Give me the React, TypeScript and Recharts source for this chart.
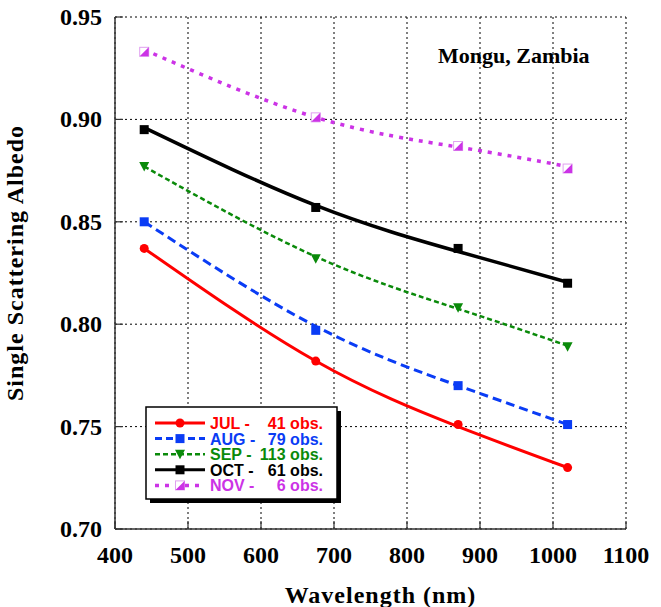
import React from 'react';
import { LineChart, Line, XAxis, YAxis, CartesianGrid, Legend } from 'recharts';

const wavelengths = [440, 675, 870, 1020];

// measured points (markers)
const jul = [0.837, 0.782, 0.751, 0.730];
const aug = [0.850, 0.797, 0.770, 0.751];
const sep = [0.877, 0.832, 0.808, 0.789];
const oct = [0.895, 0.857, 0.837, 0.820];
const nov = [0.933, 0.901, 0.887, 0.876];

// fitted curves at the same wavelengths
const julFit = [0.837, 0.782, 0.750, 0.730];
const augFit = [0.850, 0.799, 0.770, 0.751];
const sepFit = [0.877, 0.833, 0.8075, 0.7895];
const octFit = [0.896, 0.858, 0.8355, 0.8205];
const novFit = [0.934, 0.901, 0.8865, 0.877];

const months = ['JUL', 'AUG', 'SEP', 'OCT', 'NOV'];
const obsCounts = ['41 obs.', '79 obs.', '113 obs.', '61 obs.', '6 obs.'];

const xTicks = [400, 500, 600, 700, 800, 900, 1000, 1100];
const xMinorTicks = [
  400, 420, 440, 460, 480, 500, 520, 540, 560, 580, 600, 620, 640, 660, 680, 700,
  720, 740, 760, 780, 800, 820, 840, 860, 880, 900, 920, 940, 960, 980, 1000,
  1020, 1040, 1060, 1080, 1100,
];
const yTicks = [0.7, 0.75, 0.8, 0.85, 0.9, 0.95];

const W = 661;
const H = 607;
const TOP = 17;
const BOTTOM = 78;
const PLOT_H = H - TOP - BOTTOM;

const SERIF = "'Liberation Serif', 'Times New Roman', serif";
const SANS = "'Liberation Sans', Arial, sans-serif";
const FRAME = '#333';

const data = wavelengths.map((w, i) => ({
  wl: w,
  jul: jul[i],
  aug: aug[i],
  sep: sep[i],
  oct: oct[i],
  nov: nov[i],
  julFit: julFit[i],
  augFit: augFit[i],
  sepFit: sepFit[i],
  octFit: octFit[i],
  novFit: novFit[i],
}));

const colors = {
  jul: '#ff0000',
  aug: '#0a3cf5',
  sep: '#0a8a0a',
  oct: '#000000',
  nov: '#cc33e6',
};

// marker shapes
const mark = (kind: string, cx: number, cy: number, color: string, key?: any) => {
  const s = 9;
  if (kind === 'circle') return <circle key={key} cx={cx} cy={cy} r={4.5} fill={color} />;
  if (kind === 'square')
    return <rect key={key} x={cx - s / 2} y={cy - s / 2} width={s} height={s} fill={color} />;
  if (kind === 'tri')
    return (
      <polygon
        key={key}
        points={`${cx - 5},${cy - 4.5} ${cx + 5},${cy - 4.5} ${cx},${cy + 5}`}
        fill={color}
      />
    );
  // half filled square
  return (
    <g key={key}>
      <rect x={cx - s / 2} y={cy - s / 2} width={s} height={s} fill="#fff" stroke="#e0a0f0" strokeWidth={1} />
      <polygon
        points={`${cx + s / 2},${cy - s / 2} ${cx + s / 2},${cy + s / 2} ${cx - s / 2},${cy + s / 2}`}
        fill={color}
      />
    </g>
  );
};

const dotFor = (kind: string, color: string) => (p: any) =>
  mark(kind, p.cx, p.cy, color, `${kind}-${p.index}`);

const XTick = ({ x, y, payload }: any) => (
  <g>
    <line x1={x} y1={y} x2={x} y2={y - 8} stroke={FRAME} strokeWidth={1.2} />
    <text x={x} y={y + 34} textAnchor="middle" fontFamily={SERIF} fontWeight="bold" fontSize={24} fill="#000">
      {payload.value}
    </text>
  </g>
);

const MinorTick = ({ x, y, payload }: any) => {
  const len = payload.value % 100 === 0 ? 8 : 5;
  return (
    <g>
      <line x1={x} y1={y} x2={x} y2={y + len} stroke={FRAME} strokeWidth={1.2} />
      <line x1={x} y1={y + PLOT_H} x2={x} y2={y + PLOT_H - len} stroke={FRAME} strokeWidth={1.2} />
    </g>
  );
};

const YTick = ({ x, y, payload }: any) => (
  <g>
    <line x1={x} y1={y} x2={x + 8} y2={y} stroke={FRAME} strokeWidth={1.2} />
    <text x={x - 13} y={y + 8} textAnchor="end" fontFamily={SERIF} fontWeight="bold" fontSize={24} fill="#000">
      {payload.value.toFixed(2)}
    </text>
  </g>
);

const YRightTick = ({ x, y }: any) => (
  <line x1={x} y1={y} x2={x - 8} y2={y} stroke={FRAME} strokeWidth={1.2} />
);

const series = [
  { key: 'nov', kind: 'half', dash: '4 6', width: 3.5 },
  { key: 'oct', kind: 'square', dash: undefined, width: 3.5 },
  { key: 'sep', kind: 'tri', dash: '5 3', width: 2.5 },
  { key: 'aug', kind: 'square', dash: '9 5', width: 3 },
  { key: 'jul', kind: 'circle', dash: undefined, width: 3 },
];

const legendRows = [
  { key: 'jul', kind: 'circle', dash: undefined, width: 3 },
  { key: 'aug', kind: 'square', dash: '7 4', width: 3 },
  { key: 'sep', kind: 'tri', dash: '5 3', width: 2.5 },
  { key: 'oct', kind: 'square', dash: undefined, width: 3 },
  { key: 'nov', kind: 'half', dash: '4 6', width: 3.5 },
];

const LegendBox = () => (
  <svg width={205} height={102}>
    <rect x={6} y={6} width={191} height={92} fill="#000" />
    <rect x={2} y={2} width={191} height={92} fill="#fff" stroke="#000" strokeWidth={1.5} />
    {legendRows.map((r, i) => {
      const y = 18 + i * 15.6;
      const c = (colors as any)[r.key];
      return (
        <g key={r.key}>
          <line x1={11} y1={y} x2={61} y2={y} stroke={c} strokeWidth={r.width} strokeDasharray={r.dash} />
          {mark(r.kind, 36, y, c)}
          <text x={66} y={y + 6} fontFamily={SANS} fontWeight="bold" fontSize={16} fill={c}>
            {months[i]} -
          </text>
          <text x={179} y={y + 6} textAnchor="end" fontFamily={SANS} fontWeight="bold" fontSize={16} fill={c}>
            {obsCounts[i]}
          </text>
        </g>
      );
    })}
  </svg>
);

export default function App() {
  return (
    <div style={{ position: 'absolute', left: 0, top: 0, width: W, height: H, background: '#fff' }}>
      <LineChart width={W} height={H} data={data} margin={{ top: TOP, right: 35, left: 0, bottom: 0 }}>
        <CartesianGrid stroke="#000" strokeDasharray="2 3" strokeWidth={1} />
        <XAxis
          dataKey="wl"
          type="number"
          domain={[400, 1100]}
          ticks={xTicks}
          interval={0}
          height={BOTTOM}
          tickSize={0}
          tickMargin={0}
          tickLine={false}
          tick={<XTick />}
          axisLine={{ stroke: FRAME, strokeWidth: 1.5 }}
          label={{
            value: 'Wavelength (nm)',
            position: 'insideBottom',
            offset: 4,
            dx: 10,
            style: { fontFamily: SERIF, fontWeight: 'bold', fontSize: 24, letterSpacing: 1, fill: '#000' },
          }}
        />
        <XAxis
          xAxisId="minor"
          orientation="top"
          dataKey="wl"
          type="number"
          domain={[400, 1100]}
          ticks={xMinorTicks}
          interval={0}
          height={0}
          tickSize={0}
          tickMargin={0}
          tickLine={false}
          tick={<MinorTick />}
          axisLine={{ stroke: FRAME, strokeWidth: 1.5 }}
        />
        <YAxis
          type="number"
          domain={[0.7, 0.95]}
          ticks={yTicks}
          interval={0}
          width={115}
          tickSize={0}
          tickMargin={0}
          tickLine={false}
          tick={<YTick />}
          axisLine={{ stroke: FRAME, strokeWidth: 1.5 }}
          label={{
            value: 'Single Scattering Albedo',
            angle: -90,
            position: 'insideLeft',
            offset: 0,
            dx: 14,
            dy: -10,
            style: {
              fontFamily: SERIF,
              fontWeight: 'bold',
              fontSize: 24,
              letterSpacing: 1,
              fill: '#000',
              textAnchor: 'middle',
            },
          }}
        />
        <YAxis
          yAxisId="right"
          orientation="right"
          type="number"
          domain={[0.7, 0.95]}
          ticks={yTicks}
          interval={0}
          width={0}
          tickSize={0}
          tickMargin={0}
          tickLine={false}
          tick={<YRightTick />}
          axisLine={{ stroke: FRAME, strokeWidth: 1.5 }}
        />
        {series.map((s) => (
          <Line
            key={s.key + 'Fit'}
            dataKey={s.key + 'Fit'}
            type="natural"
            stroke={(colors as any)[s.key]}
            strokeWidth={s.width}
            strokeDasharray={s.dash}
            dot={false}
            activeDot={false}
            legendType="none"
            isAnimationActive={false}
          />
        ))}
        {series.map((s) => (
          <Line
            key={s.key}
            dataKey={s.key}
            stroke="none"
            dot={dotFor(s.kind, (colors as any)[s.key])}
            isAnimationActive={false}
          />
        ))}
        <Legend
          layout="vertical"
          align="center"
          verticalAlign="middle"
          content={<LegendBox />}
          wrapperStyle={{ left: 144, top: 405, width: 205, height: 102 }}
        />
      </LineChart>
      <svg
        width={W}
        height={H}
        style={{ position: 'absolute', left: 0, top: 0, pointerEvents: 'none' }}
      >
        <text x={438} y={63} fontFamily={SERIF} fontWeight="bold" fontSize={22} fill="#000">
          Mongu, Zambia
        </text>
      </svg>
    </div>
  );
}
